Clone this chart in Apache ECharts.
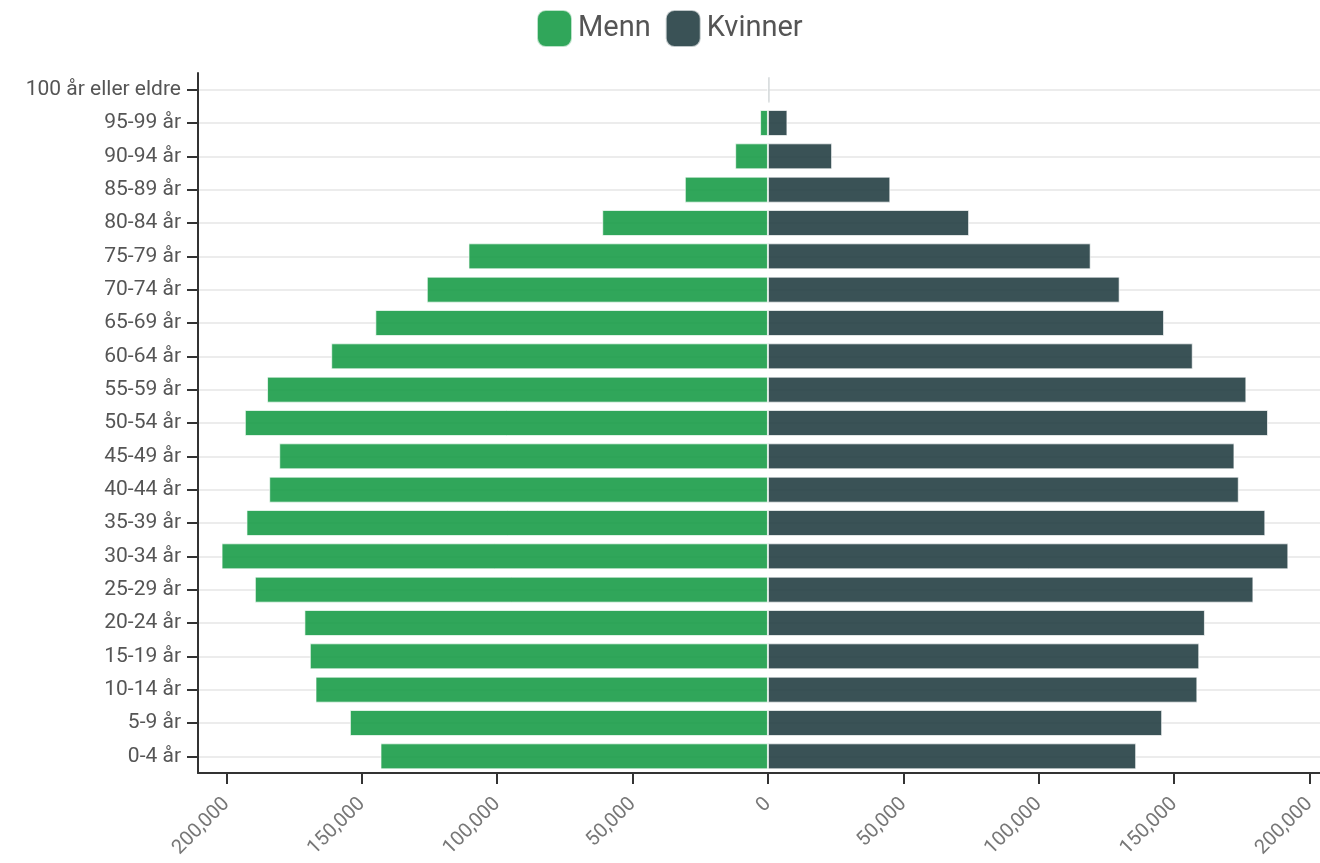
<!DOCTYPE html>
<html>
<head>
<meta charset="utf-8">
<script src="https://cdn.jsdelivr.net/npm/echarts@6/dist/echarts.min.js"></script>
<style>
html,body{margin:0;padding:0;background:#fff;}
#chart{width:1320px;height:863px;}
</style>
</head>
<body>
<div id="chart"></div>
<script>
var categories = ["0-4 år","5-9 år","10-14 år","15-19 år","20-24 år","25-29 år","30-34 år","35-39 år","40-44 år","45-49 år","50-54 år","55-59 år","60-64 år","65-69 år","70-74 år","75-79 år","80-84 år","85-89 år","90-94 år","95-99 år","100 år eller eldre"];
var menn = [143100,154400,167100,169200,171200,189500,201800,192600,184200,180500,193200,185000,161300,145000,126000,110600,61200,30700,12100,2900,120];
var kvinner = [136000,145600,158600,159300,161400,179300,192200,183700,173900,172300,184700,176700,156900,146300,129900,119200,74300,45200,23700,7200,700];
var xTicks = [-200000,-150000,-100000,-50000,0,50000,100000,150000,200000];

var chart = echarts.init(document.getElementById('chart'));
var fontFam = 'Roboto';
chart.setOption({
  animation: false,
  textStyle: {fontFamily: fontFam},
  legend: {
    top: 4, left: 531,
    itemWidth: 35, itemHeight: 37, itemGap: 14,
    icon: 'roundRect',
    textStyle: {fontSize: 29, color: '#555', fontFamily: fontFam, padding: [4,0,0,1]},
    data: ['Menn','Kvinner']
  },
  grid: {left: 198, right: 0, top: 73, bottom: 90, containLabel: false},
  xAxis: {
    type: 'value',
    min: -210500, max: 203900,
    axisLine: {show: true, onZero: false, lineStyle: {color: '#333', width: 2}},
    axisTick: {show: true, length: 11, lineStyle: {color: '#333', width: 2}, customValues: xTicks},
    axisLabel: {rotate: 45, margin: 28, fontSize: 20, color: '#777', fontFamily: fontFam,
      customValues: xTicks,
      formatter: function(v){ return Math.abs(v).toLocaleString('en-US'); }},
    splitLine: {show: false}
  },
  yAxis: {
    type: 'category',
    data: categories,
    axisLine: {show: true, onZero: false, lineStyle: {color: '#333', width: 2}},
    axisTick: {show: true, alignWithLabel: true, length: 11, lineStyle: {color: '#333', width: 2}},
    axisLabel: {fontSize: 21, color: '#555', margin: 17, fontFamily: fontFam},
    splitLine: {show: false}
  },
  series: [
    {
      name: 'Menn', type: 'bar', stack: 'pop',
      barCategoryGap: '22%',
      itemStyle: {color: '#1a9c48', opacity: 0.9, borderColor: 'rgba(255,255,255,0.75)', borderWidth: 1},
      data: menn.map(function(v){ return -v; }),
      markLine: {
        silent: true, symbol: 'none', z: 0,
        label: {show: false},
        lineStyle: {color: '#ececec', width: 2, type: 'solid'},
        data: categories.map(function(c){ return {yAxis: c}; })
      }
    },
    {
      name: 'Kvinner', type: 'bar', stack: 'pop',
      barCategoryGap: '22%',
      itemStyle: {color: '#253f44', opacity: 0.9, borderColor: 'rgba(255,255,255,0.75)', borderWidth: 1},
      data: kvinner
    }
  ]
});
</script>
</body>
</html>
